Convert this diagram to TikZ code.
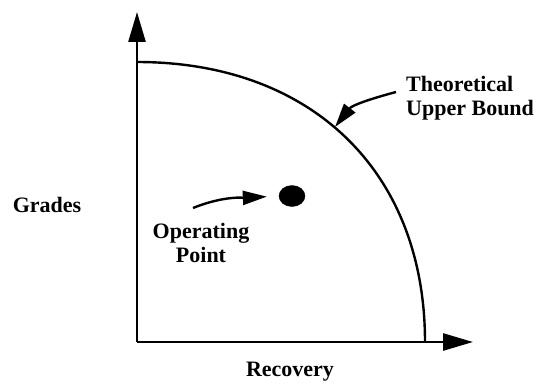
\documentclass[tikz,border=0pt]{standalone}
\usepackage{fontspec}
\setmainfont{Liberation Serif}
\usetikzlibrary{positioning,arrows.meta,shapes.geometric}

\begin{document}
\begin{tikzpicture}[
  x=1pt, y=1pt,
  axis/.style={line width=2.6pt, -{Triangle[length=30pt,width=17pt]}},
  bound/.style={line width=2.4pt},
  pointer/.style={line width=2.4pt, -{Triangle[length=24pt,width=14pt]}},
  lbl/.style={font=\fontsize{22}{24}\selectfont\bfseries, inner sep=0pt, align=center},
  ]
  \useasboundingbox (0,0) rectangle (548,389);

  \coordinate (orig) at (137,47);
  \coordinate (ytop) at (137,377);
  \coordinate (xend) at (473,47);

  \draw[axis] (orig) -- (ytop);
  \draw[axis] (orig) -- (xend);

  % theoretical bound
  \coordinate (bnda) at (137,327);
  \coordinate (bndb) at (425,47);
  \draw[bound] (bnda) .. controls (312,327) and (425,217) .. (bndb);

  \node[draw, fill=black, ellipse, minimum width=26pt, minimum height=21pt, inner sep=0pt] (op) at (292,193) {};

  \node[lbl] (grades) at (47,184) {Grades};
  \node[lbl] (recov) at (290,17) {Recovery};
  \node[lbl] (optxt) at (201,146) {Operating\\Point};
  \node[lbl, align=left, anchor=west] (bndtxt) at (406,291) {Theoretical\\Upper Bound};

  \coordinate (optail) at (193,181);
  \coordinate (bndtail) at (396,297);
  \coordinate (bndtip) at (335,262);

  \draw[pointer, shorten >=12pt] (optail) to[out=22, in=183] (op.west);
  \draw[pointer] (bndtail) to[out=195, in=52] (bndtip);
\end{tikzpicture}
\end{document}
